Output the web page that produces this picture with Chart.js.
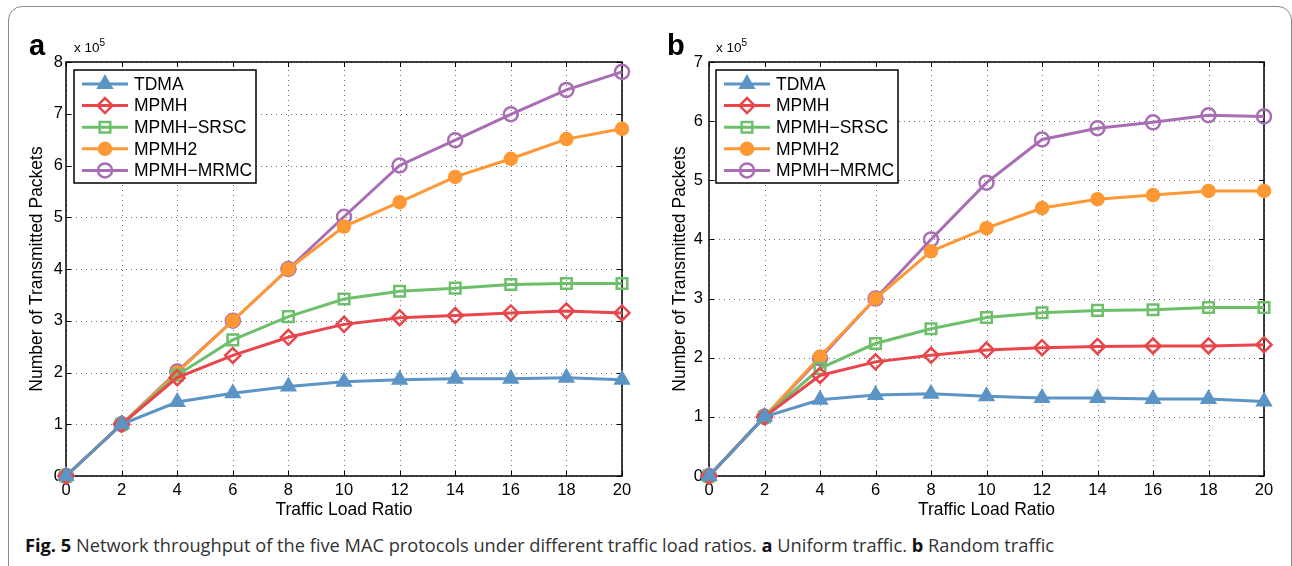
<!DOCTYPE html>
<html>
<head>
<meta charset="utf-8">
<title>Fig. 5</title>
<script src="https://cdn.jsdelivr.net/npm/chart.js@4.4.1/dist/chart.umd.min.js"></script>
<style>
  html, body { margin: 0; padding: 0; background: #fff; }
  #page { position: relative; width: 1292px; height: 566px; overflow: hidden; font-family: "Liberation Sans", Arial, sans-serif; }
  #frame { position: absolute; left: 8px; top: 6px; width: 1284px; height: 590px; border: 1.5px solid #8a8a8a; border-radius: 14px; box-sizing: border-box; }
  .panel { position: absolute; top: 0; height: 530px; }
  #wrapA { left: 0; width: 650px; }
  #wrapB { left: 650px; width: 642px; }
  .letter { position: absolute; font: bold 29px "Liberation Sans", Arial, sans-serif; line-height: 1; }
  .expo { position: absolute; font: 13.5px "Liberation Sans", Arial, sans-serif; line-height: 1; }
  .expo sup { font-size: 10px; vertical-align: 6px; }
  #caption { position: absolute; left: 25px; top: 533px; font: 18px "Open Sans", "Noto Sans", sans-serif; white-space: nowrap; color: #333; transform-origin: 0 0; }
  #caption b { color: #111; }
</style>
</head>
<body>
<div id="page">
  <div id="frame"></div>
  <div class="panel" id="wrapA"><canvas id="chart-a" width="650" height="530"></canvas></div>
  <div class="panel" id="wrapB"><canvas id="chart-b" width="642" height="530"></canvas></div>
  <div class="letter" style="left:29px;top:31px;">a</div>
  <div class="expo" style="left:74px;top:38px;">x 10<sup>5</sup></div>
  <div class="letter" style="left:667px;top:31px;">b</div>
  <div class="expo" style="left:716px;top:38px;">x 10<sup>5</sup></div>
  <div id="caption"><b>Fig. 5</b> Network throughput of the five MAC protocols under different traffic load ratios. <b>a</b> Uniform traffic. <b>b</b> Random traffic</div>
</div>
<script>
// x values (traffic load ratio)
const loadRatio = [0, 2, 4, 6, 8, 10, 12, 14, 16, 18, 20];
const seriesNames = ['TDMA', 'MPMH', 'MPMH\u2212SRSC', 'MPMH2', 'MPMH\u2212MRMC'];

// (a) uniform traffic, x 10^5 packets
const uniformTDMA = [0, 1.0, 1.43, 1.60, 1.73, 1.82, 1.86, 1.88, 1.88, 1.90, 1.86];
const uniformMPMH = [0, 1.0, 1.90, 2.33, 2.68, 2.93, 3.06, 3.10, 3.15, 3.19, 3.15];
const uniformSRSC = [0, 1.0, 1.95, 2.63, 3.08, 3.42, 3.57, 3.63, 3.70, 3.72, 3.72];
const uniformMPMH2 = [0, 1.0, 2.0, 3.0, 4.0, 4.82, 5.29, 5.78, 6.13, 6.51, 6.71];
const uniformMRMC = [0, 1.0, 2.02, 3.0, 4.0, 5.01, 6.0, 6.49, 6.99, 7.46, 7.81];

// (b) random traffic, x 10^5 packets
const randomTDMA = [0, 1.0, 1.29, 1.37, 1.39, 1.35, 1.32, 1.32, 1.30, 1.30, 1.26];
const randomMPMH = [0, 1.0, 1.70, 1.93, 2.04, 2.13, 2.17, 2.19, 2.20, 2.20, 2.22];
const randomSRSC = [0, 1.0, 1.82, 2.24, 2.49, 2.68, 2.76, 2.80, 2.81, 2.85, 2.85];
const randomMPMH2 = [0, 1.0, 2.02, 3.0, 3.80, 4.19, 4.53, 4.68, 4.75, 4.82, 4.82];
const randomMRMC = [0, 1.0, 1.99, 3.0, 4.0, 4.96, 5.69, 5.88, 5.98, 6.10, 6.08];

const xTicks = [0, 2, 4, 6, 8, 10, 12, 14, 16, 18, 20];

const styles = [
  { color: '#5b94c5', pointStyle: 'triangle', radius: 7.5, fill: true },
  { color: '#e8464b', pointStyle: 'rectRot', radius: 7.5, fill: false },
  { color: '#6ebf6b', pointStyle: 'rect', radius: 7.5, fill: false },
  { color: '#fd9835', pointStyle: 'circle', radius: 6, fill: true },
  { color: '#a96db4', pointStyle: 'circle', radius: 7, fill: false }
];

const FONT = '"Liberation Sans", Arial, sans-serif';

// MATLAB-like axes: dotted grid, box, inward ticks
const boxPlugin = {
  id: 'axesBox',
  beforeDatasetsDraw(chart) {
    const { ctx, chartArea: a, scales: { x, y } } = chart;
    ctx.save();
    // dotted grid
    ctx.strokeStyle = '#6e6e6e';
    ctx.lineWidth = 1;
    ctx.setLineDash([1, 4]);
    ctx.beginPath();
    x.ticks.forEach(t => {
      const px = Math.round(x.getPixelForValue(t.value)) + 0.5;
      ctx.moveTo(px, a.bottom); ctx.lineTo(px, a.top);
    });
    y.ticks.forEach(t => {
      const py = Math.round(y.getPixelForValue(t.value)) + 0.5;
      ctx.moveTo(a.left, py); ctx.lineTo(a.right, py);
    });
    ctx.stroke();
    ctx.setLineDash([]);
    // box
    ctx.strokeStyle = '#000';
    ctx.lineWidth = 1.5;
    ctx.strokeRect(a.left, a.top, a.right - a.left, a.bottom - a.top);
    // inward ticks
    ctx.lineWidth = 1;
    ctx.beginPath();
    x.ticks.forEach(t => {
      const px = Math.round(x.getPixelForValue(t.value)) + 0.5;
      ctx.moveTo(px, a.bottom); ctx.lineTo(px, a.bottom - 5);
      ctx.moveTo(px, a.top); ctx.lineTo(px, a.top + 5);
    });
    y.ticks.forEach(t => {
      const py = Math.round(y.getPixelForValue(t.value)) + 0.5;
      ctx.moveTo(a.left, py); ctx.lineTo(a.left + 5, py);
      ctx.moveTo(a.right, py); ctx.lineTo(a.right - 5, py);
    });
    ctx.stroke();
    ctx.restore();
  }
};

// boxed legend drawn in the upper-left corner
const legendPlugin = {
  id: 'boxLegend',
  afterDraw(chart, args, opts) {
    const { ctx } = chart;
    ctx.save();
    ctx.fillStyle = '#fff';
    ctx.fillRect(opts.x, opts.y, opts.w, opts.h);
    ctx.strokeStyle = '#000';
    ctx.lineWidth = 1.5;
    ctx.strokeRect(opts.x, opts.y, opts.w, opts.h);
    chart.data.datasets.forEach((ds, i) => {
      const cy = opts.y + 14 + i * 21.6;
      const x0 = opts.x + 8, x1 = opts.x + 54;
      ctx.strokeStyle = ds.borderColor;
      ctx.lineWidth = 3;
      ctx.beginPath(); ctx.moveTo(x0, cy); ctx.lineTo(x1, cy); ctx.stroke();
      ctx.fillStyle = ds.pointBackgroundColor;
      ctx.strokeStyle = ds.borderColor;
      ctx.lineWidth = ds.pointBorderWidth;
      Chart.helpers.drawPoint(ctx, { pointStyle: ds.pointStyle, radius: ds.pointRadius, borderWidth: ds.pointBorderWidth, rotation: 0 }, (x0 + x1) / 2, cy);
      ctx.fillStyle = '#000';
      ctx.font = '17.5px ' + FONT;
      ctx.textBaseline = 'middle';
      ctx.fillText(ds.label, opts.x + 60, cy + 1);
    });
    ctx.restore();
  }
};

function buildDatasets(seriesList) {
  return seriesList.map((vals, i) => ({
    label: seriesNames[i],
    data: loadRatio.map((x, k) => ({ x, y: vals[k] })),
    borderColor: styles[i].color,
    borderWidth: 3,
    pointStyle: styles[i].pointStyle,
    pointRadius: styles[i].radius,
    pointBorderWidth: 2.5,
    pointBorderColor: styles[i].color,
    pointBackgroundColor: styles[i].fill ? styles[i].color : 'rgba(255,255,255,0)',
    tension: 0,
    clip: false
  }));
}

function makeChart(canvasId, seriesList, yMax, axisWidth, titlePad, tickPad, legendX) {
  const tickFont = { family: FONT, size: 16.5 };
  const titleFont = { family: FONT, size: 17.5 };
  return new Chart(document.getElementById(canvasId), {
    type: 'line',
    data: { datasets: buildDatasets(seriesList) },
    plugins: [boxPlugin, legendPlugin],
    options: {
      responsive: false,
      animation: false,
      events: [],
      layout: { padding: { top: 62, right: 28, left: 0, bottom: 0 } },
      plugins: {
        legend: { display: false },
        tooltip: { enabled: false },
        boxLegend: { x: legendX, y: 70, w: 182, h: 113 }
      },
      scales: {
        x: {
          type: 'linear',
          min: 0, max: 20,
          afterBuildTicks: s => { s.ticks = xTicks.map(v => ({ value: v })); },
          afterFit: s => { s.height = 54; },
          grid: { display: false, drawTicks: false },
          border: { display: false },
          ticks: { color: '#000', font: tickFont, padding: 5, maxRotation: 0 },
          title: { display: true, text: 'Traffic Load Ratio', color: '#000', font: titleFont, padding: { top: 0, bottom: 9 } }
        },
        y: {
          type: 'linear',
          min: 0, max: yMax,
          ticks: { stepSize: 1, color: '#000', font: tickFont, padding: tickPad },
          afterFit: s => { s.width = axisWidth; },
          grid: { display: false, drawTicks: false },
          border: { display: false },
          title: { display: true, text: 'Number of Transmitted Packets', color: '#000', font: titleFont, padding: { top: titlePad, bottom: 0 } }
        }
      }
    }
  });
}

makeChart('chart-a', [uniformTDMA, uniformMPMH, uniformSRSC, uniformMPMH2, uniformMRMC], 8, 66, 27, 3, 74);
makeChart('chart-b', [randomTDMA, randomMPMH, randomSRSC, randomMPMH2, randomMRMC], 7, 59, 20, 6, 66);

// fit caption to the original line length
const cap = document.getElementById('caption');
cap.style.transform = 'scaleX(' + (1029 / cap.getBoundingClientRect().width) + ')';
</script>
</body>
</html>
